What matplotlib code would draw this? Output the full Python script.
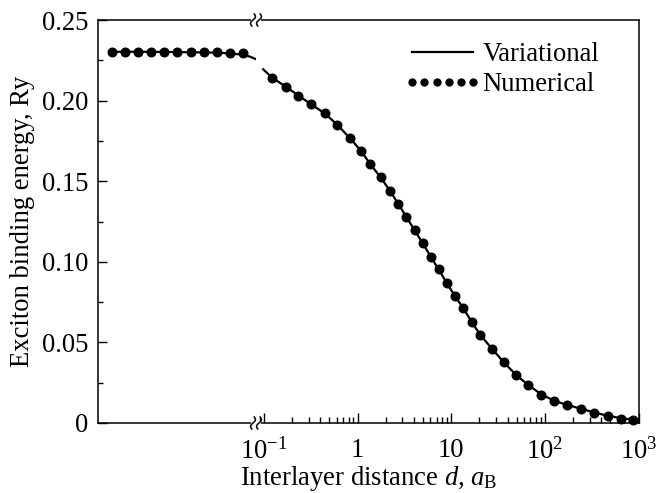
import numpy as np
import matplotlib
matplotlib.use("Agg")
import matplotlib.pyplot as plt
import matplotlib.transforms as mtransforms
from matplotlib.ticker import FixedLocator, FixedFormatter, LogLocator, NullFormatter, NullLocator

plt.rcParams['font.family'] = ['Liberation Serif', 'DejaVu Serif']
plt.rcParams['mathtext.fontset'] = 'custom'
plt.rcParams['mathtext.rm'] = 'Liberation Serif'
plt.rcParams['mathtext.it'] = 'Liberation Serif:italic'
plt.rcParams['mathtext.bf'] = 'Liberation Serif:bold'

FS = 19.2

# left segment (linear in d)
d_lin_num = [0.00, 0.01, 0.02, 0.03, 0.04, 0.05, 0.06, 0.07, 0.08, 0.09, 0.10]
E_lin_num = [0.2303, 0.2303, 0.2303, 0.2303, 0.2303, 0.2302, 0.2302, 0.2301, 0.2300, 0.2298, 0.2294]
d_lin_var = [0.00, 0.02, 0.04, 0.06, 0.07, 0.08, 0.09, 0.10, 0.105, 0.110]
E_lin_var = [0.2303, 0.2303, 0.2302, 0.2300, 0.2299, 0.2297, 0.2293, 0.2284, 0.2273, 0.2256]

# right segment (log in d)
d_log_num = [0.123, 0.171, 0.233, 0.321, 0.447, 0.609, 0.827, 1.085, 1.364, 1.759,
             2.218, 2.721, 3.314, 4.068, 4.954, 6.034, 7.348, 8.950, 10.90, 13.51,
             16.54, 20.44, 27.41, 36.22, 48.69, 66.58, 91.74, 126.4, 174.1, 243.5,
             338.8, 466.9, 648.0, 877.7]
E_log_num = [0.2138, 0.2086, 0.2030, 0.1977, 0.1921, 0.1849, 0.1766, 0.1689, 0.1605, 0.1524,
             0.1439, 0.1359, 0.1278, 0.1195, 0.1115, 0.1032, 0.0953, 0.0868, 0.0788, 0.0712,
             0.0625, 0.0544, 0.0459, 0.0378, 0.0300, 0.0234, 0.0176, 0.0138, 0.0114, 0.0089,
             0.0064, 0.0043, 0.0027, 0.0019]
d_log_var = [0.098, 0.123, 0.171, 0.233, 0.321, 0.447, 0.609, 0.827, 1.085, 1.364, 1.759,
             2.218, 2.721, 3.314, 4.068, 4.954, 6.034, 7.348, 8.950, 10.90, 13.51,
             16.54, 20.44, 27.41, 36.22, 48.69, 66.58, 91.74, 126.4, 174.1, 243.5,
             338.8, 466.9, 648.0, 877.7, 1000.0]
E_log_var = [0.2194, 0.2140, 0.2087, 0.2031, 0.1976, 0.1920, 0.1849, 0.1767, 0.1689, 0.1606, 0.1524,
             0.1440, 0.1359, 0.1278, 0.1195, 0.1115, 0.1032, 0.0952, 0.0869, 0.0789, 0.0711,
             0.0627, 0.0546, 0.0459, 0.0378, 0.0301, 0.0235, 0.0178, 0.0137, 0.0112, 0.0088,
             0.0065, 0.0045, 0.0030, 0.0021, 0.0017]

y_ticks = [0, 0.05, 0.10, 0.15, 0.20, 0.25]
y_labels = ['0', '0.05', '0.10', '0.15', '0.20', '0.25']
x_ticks = [0.1, 1, 10, 100, 1000]
x_labels = [r'$10^{-1}$', '1', '10', r'$10^{2}$', r'$10^{3}$']

W, H = 656, 493
fig = plt.figure(figsize=(W / 100, H / 100), dpi=100)
bottom, top = 1 - 423 / H, 1 - 20 / H
ax1 = fig.add_axes([98 / W, bottom, (256 - 98) / W, top - bottom])
ax2 = fig.add_axes([256 / W, bottom, (638.5 - 256) / W, top - bottom])

lw = 1.6
ms = 6.2
ax1.plot(d_lin_var, E_lin_var, color='black', lw=lw)
ax1.plot(d_lin_num, E_lin_num, 'o', color='black', ms=ms, clip_on=False)
ax2.plot(d_log_var, E_log_var, color='black', lw=lw, label='Variational')
ax2.plot(d_log_num, E_log_num, 'o', color='black', ms=ms, clip_on=False, label='Numerical')

ax1.set_xlim(-0.0104, 0.1097)
ax2.set_xscale('log')
ax2.set_xlim(0.0821, 1000)
for ax in (ax1, ax2):
    ax.set_ylim(0, 0.25)
    for s in ax.spines.values():
        s.set_linewidth(1.1)
ax1.spines['right'].set_visible(False)
ax2.spines['left'].set_visible(False)

ax1.xaxis.set_major_locator(NullLocator())
ax1.yaxis.set_major_locator(FixedLocator(y_ticks))
ax1.yaxis.set_major_formatter(FixedFormatter(y_labels))
ax1.yaxis.set_minor_locator(FixedLocator([0.025, 0.075, 0.125, 0.175, 0.225]))
ax1.tick_params(axis='y', which='major', direction='in', length=6.5, width=1, pad=7, labelsize=FS)
ax1.tick_params(axis='y', which='minor', direction='in', length=3.4, width=1)

ax2.yaxis.set_major_locator(NullLocator())
ax2.yaxis.set_minor_locator(NullLocator())
ax2.xaxis.set_major_locator(FixedLocator(x_ticks))
ax2.xaxis.set_major_formatter(FixedFormatter(x_labels))
ax2.xaxis.set_minor_locator(LogLocator(base=10, subs=np.arange(2, 10), numticks=20))
ax2.xaxis.set_minor_formatter(NullFormatter())
ax2.tick_params(axis='x', which='major', direction='in', length=7, width=1, pad=11, labelsize=FS)
ax2.tick_params(axis='x', which='minor', direction='in', length=4.3, width=1)

ax1.set_ylabel('Exciton binding energy, Ry', fontsize=FS, labelpad=5)
fig.text(369 / W, 1 - 485 / H, r'Interlayer distance $d$, $a_\mathrm{B}$',
         fontsize=FS, ha='center', va='baseline')

leg = ax2.legend(loc='upper left', bbox_to_anchor=(404 / W, 1 - 42 / H),
                 bbox_transform=fig.transFigure, frameon=False, fontsize=FS,
                 numpoints=6, handlelength=2.9, handletextpad=0.05,
                 borderpad=0, borderaxespad=0, labelspacing=0.2, markerscale=0.8)

# axis break marks
ident = mtransforms.IdentityTransform()
t = np.linspace(-1, 1, 40)
for yf in (0, 1):
    x0, y0 = ax2.transAxes.transform((0, yf))
    ax2.plot([x0 - 3, x0 + 3], [y0, y0], color='white', lw=3, transform=ident,
             clip_on=False, zorder=5)
    for dx in (-3, 3):
        ax2.plot(x0 + dx + 1.8 * np.sin(np.pi * t) + 1.2 * t, y0 + 6 * t,
                 color='black', lw=1.1, transform=ident, clip_on=False, zorder=6)

fig.savefig('out.png', dpi=100)
